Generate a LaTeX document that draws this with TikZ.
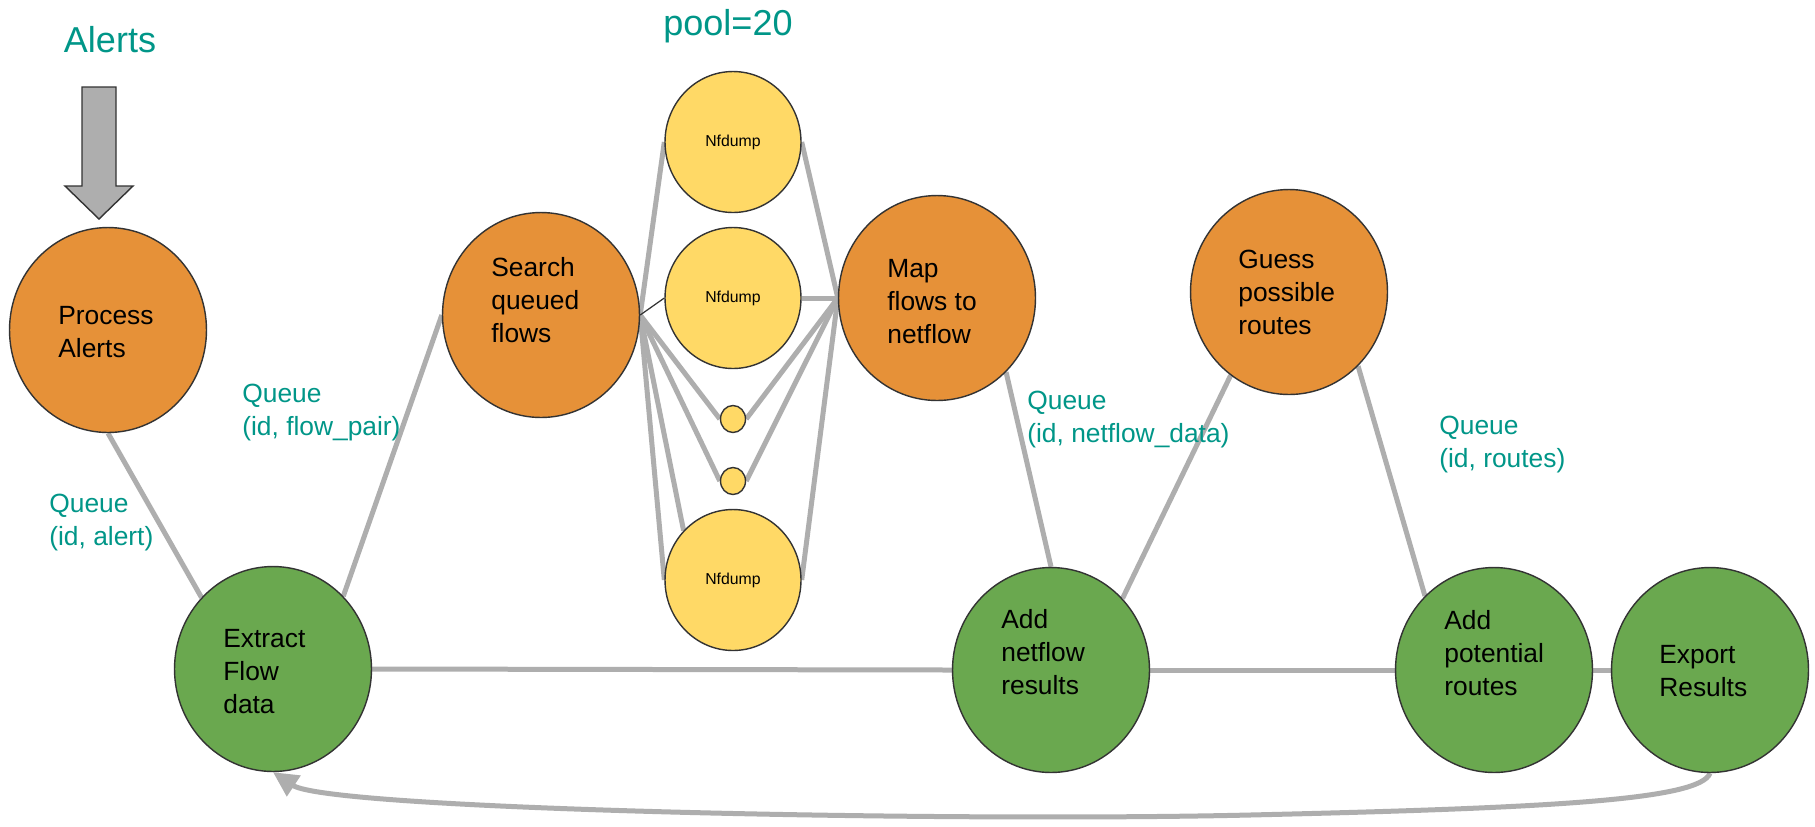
\documentclass[tikz,border=0pt]{standalone}
\usepackage{fontspec}
\setmainfont{Liberation Sans}
\usetikzlibrary{shapes.geometric,arrows.meta,backgrounds}

\definecolor{procorange}{HTML}{E69138}
\definecolor{collectgreen}{HTML}{6AA84F}
\definecolor{workeryellow}{HTML}{FFD966}
\definecolor{outline}{HTML}{333333}
\definecolor{pipegray}{HTML}{AEAEAE}
\definecolor{queueteal}{HTML}{009688}

\begin{document}
\begin{tikzpicture}[x=0.02cm,y=-0.02cm,
  bubble/.style={ellipse, draw=outline, line width=0.8pt, inner sep=0pt,
                 minimum width=3.94cm, minimum height=4.1cm},
  stage/.style={bubble, fill=procorange},
  collect/.style={bubble, fill=collectgreen},
  worker/.style={ellipse, draw=outline, line width=0.8pt, fill=workeryellow,
                 inner sep=0pt, minimum width=2.72cm, minimum height=2.82cm,
                 font=\fontsize{9}{11}\selectfont},
  spare/.style={ellipse, draw=outline, line width=0.8pt, fill=workeryellow,
                inner sep=0pt, minimum width=0.5cm, minimum height=0.54cm},
  % multi-line captions: the base anchor sits on the last line
  steptext/.style={inner sep=0pt, anchor=base west, align=left,
                   font=\fontsize{15}{18.7}\selectfont},
  qlabel/.style={steptext, text=queueteal},
  headline/.style={inner sep=0pt, anchor=base, text=queueteal,
                   font=\fontsize{20.5}{24}\selectfont},
  pipe/.style={draw=pipegray, line width=0.1cm},
  thinpipe/.style={draw=outline, line width=0.7pt},
]
\useasboundingbox (0,0) rectangle (1815,826);

% incoming alerts
\node[headline] (alertsttl) at (110,52) {Alerts};
\filldraw[fill=pipegray, draw=outline, line width=0.8pt]
  (82,87) -- (116,87) -- (116,186) -- (133,186) -- (99,219) -- (65,186) -- (82,186) -- cycle;

\node[headline] (poolttl) at (728,35) {pool=20};

% processing stages
\node[stage] (pa) at (108,330) {};
\node[stage] (se) at (541,315) {};
\node[stage] (mp) at (937,298) {};
\node[stage] (gs) at (1289,292) {};

% collecting stages
\node[collect] (ex) at (273,669) {};
\node[collect] (an) at (1051,670) {};
\node[collect] (ap) at (1494,670) {};
\node[collect] (xp) at (1710,670) {};

% nfdump worker pool
\node[worker] (n1) at (733,142) {Nfdump};
\node[worker] (n2) at (733,298) {Nfdump};
\node[spare]  (s1) at (733,419) {};
\node[spare]  (s2) at (733,481) {};
\node[worker] (n3) at (733,580) {Nfdump};

% stage captions
\node[steptext] (pat) at (58,357)   {Process\\Alerts};
\node[steptext] (ext) at (223,713)  {Extract\\Flow\\data};
\node[steptext] (set) at (491,342)  {Search\\queued\\flows};
\node[steptext] (mpt) at (887,343)  {Map\\flows to\\netflow};
\node[steptext] (gst) at (1238,334) {Guess\\possible\\routes};
\node[steptext] (ant) at (1001,694) {Add\\netflow\\results};
\node[steptext] (apt) at (1444,695) {Add\\potential\\routes};
\node[steptext] (xpt) at (1659,696) {Export\\Results};

% queue labels
\node[qlabel] (q1) at (49,545)   {Queue\\(id, alert)};
\node[qlabel] (q2) at (242,435)  {Queue\\(id, flow\_pair)};
\node[qlabel] (q3) at (1027,442) {Queue\\(id, netflow\_data)};
\node[qlabel] (q4) at (1439,467) {Queue\\(id, routes)};

\begin{scope}[on background layer]
  \fill[white] (0,0) rectangle (1815,826);
  % queues between stages
  \draw[pipe] (pa.south) -- (ex.135);
  \draw[pipe] (ex.46) -- (se.west);
  \draw[pipe] (ex.east) -- (an.west);
  \draw[pipe] (an.east) -- (ap.west);
  \draw[pipe] (ap.east) -- (xp.west);
  \draw[pipe] (mp.-47) -- (an.north);
  \draw[pipe] (gs.235) -- (an.45);
  \draw[pipe] (gs.-47) -- (ap.133);
  % fan out to the pool
  \draw[pipe] (se.east) -- (n1.west);
  \draw[pipe] (se.east) -- (s1.west);
  \draw[pipe] (se.east) -- (s2.west);
  \draw[pipe] (se.east) -- (n3.135);
  \draw[pipe] (se.east) -- (n3.west);
  \draw[thinpipe] (se.east) -- (n2.west);
  % fan in to the mapper
  \draw[pipe] (n1.east) -- (mp.west);
  \draw[pipe] (n2.east) -- (mp.west);
  \draw[pipe] (s1.east) -- (mp.west);
  \draw[pipe] (s2.east) -- (mp.west);
  \draw[pipe] (n3.east) -- (mp.west);
  % feedback loop
  \draw[pipe, -{Triangle[length=0.5cm,width=0.48cm]}]
    (xp.south) .. controls (1700,800) and (1550,808) .. (1250,815)
               .. controls (950,822) and (330,810) .. (ex.south);
\end{scope}
\end{tikzpicture}
\end{document}
